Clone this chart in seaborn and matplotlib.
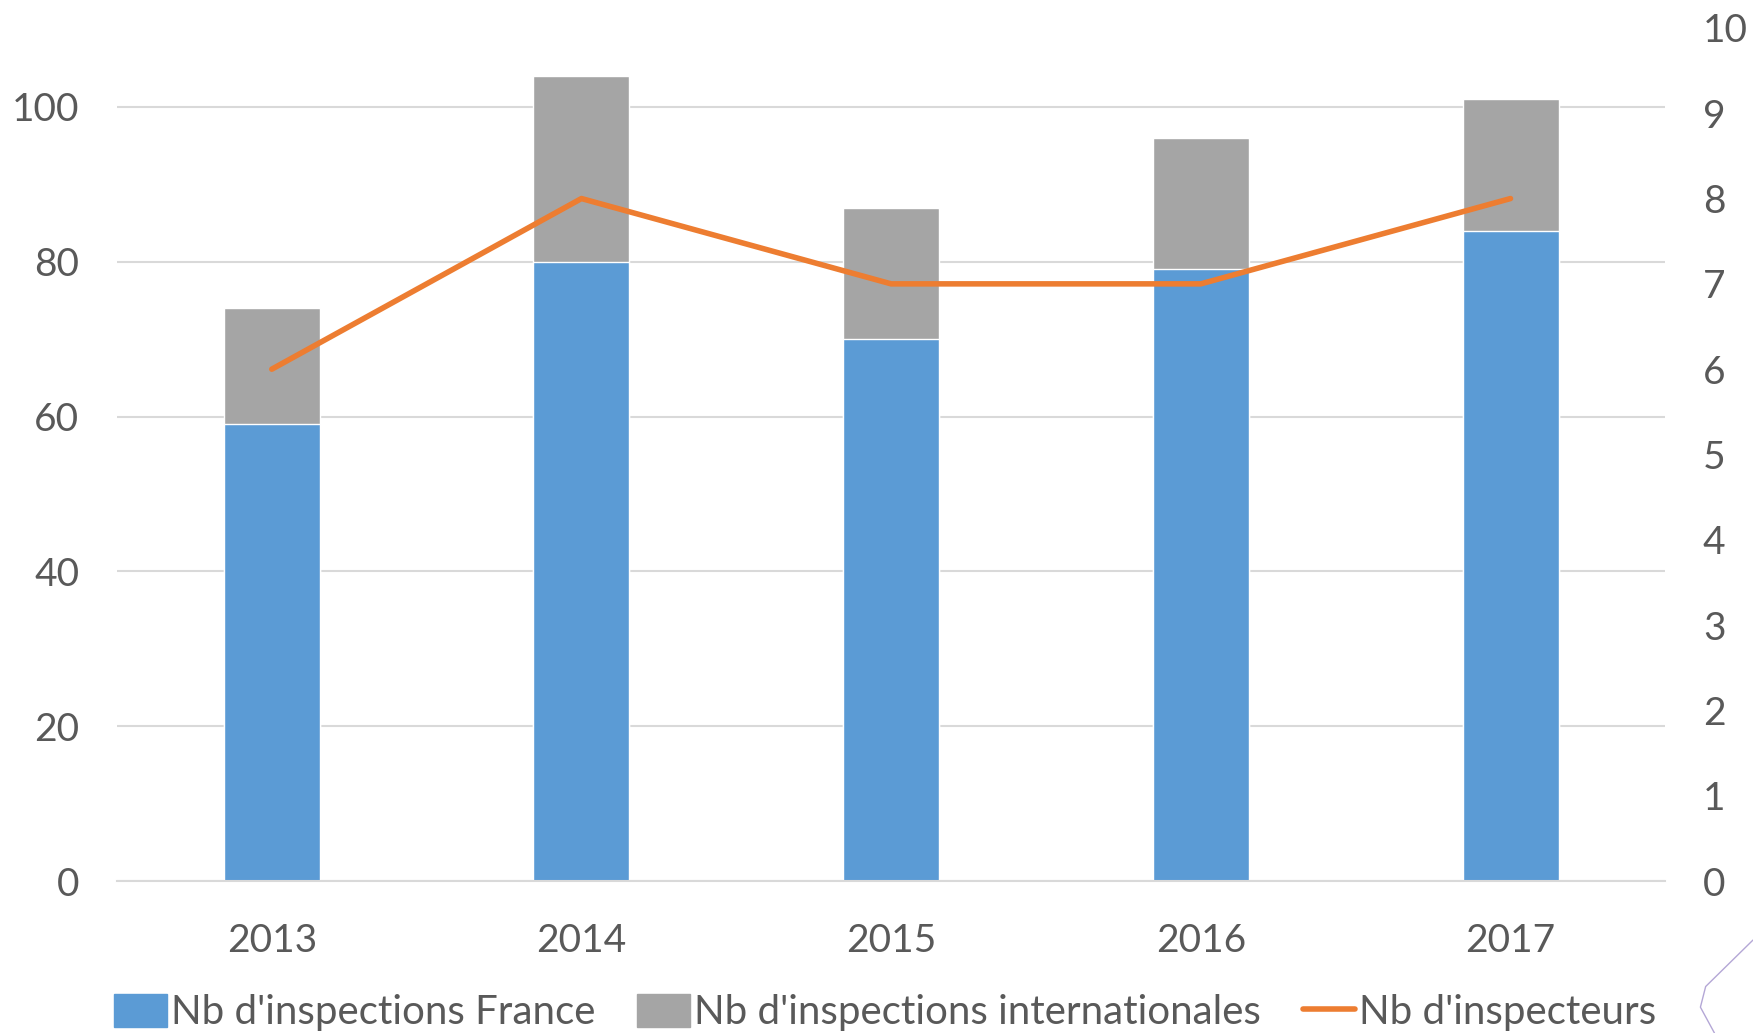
import numpy as np
import pandas as pd
import seaborn as sns
import matplotlib.pyplot as plt
from matplotlib.patches import Patch
from matplotlib.lines import Line2D

# Data
years = ["2013", "2014", "2015", "2016", "2017"]
insp_france = [59, 80, 70, 79, 84]
insp_inter = [15, 24, 17, 17, 17]
nb_inspecteurs = [6, 8, 7, 7, 8]

BLUE = "#5B9BD5"
GREY = "#A5A5A5"
ORANGE = "#ED7D31"
TXT = "#595959"

sns.set_style("white")
plt.rcParams["font.family"] = ["Lato", "DejaVu Sans"]

df = pd.DataFrame({"annee": years, "france": insp_france, "inter": insp_inter,
                   "inspecteurs": nb_inspecteurs})
df["total"] = df["france"] + df["inter"]
df["pos"] = np.arange(len(df))

fig = plt.figure(figsize=(17.53, 10.33), dpi=100)
ax = fig.add_axes([0.0667, 0.147, 0.8833, 0.826])

# stacked bars: total (grey) below, france (blue) in front
sns.barplot(data=df, x="annee", y="total", color=GREY, width=0.31, saturation=1, ax=ax)
sns.barplot(data=df, x="annee", y="france", color=BLUE, width=0.31, saturation=1, ax=ax)

ax.set_xlim(-0.5, 4.5)
ax.set_ylim(0, 110.2)
ax.set_yticks(range(0, 101, 20))
ax.yaxis.grid(True, color="#D9D9D9", linewidth=1.5)
ax.set_axisbelow(True)
ax.set_xlabel("")
ax.set_ylabel("")
for s in ["top", "right", "left"]:
    ax.spines[s].set_visible(False)
ax.spines["bottom"].set_color("#D9D9D9")
ax.spines["bottom"].set_linewidth(1.5)
ax.tick_params(axis="both", length=0, labelsize=28, colors=TXT)
ax.tick_params(axis="x", pad=30)
ax.tick_params(axis="y", pad=27)

ax2 = ax.twinx()
sns.lineplot(data=df, x="pos", y="inspecteurs", color=ORANGE, linewidth=4, ax=ax2)
ax2.set_ylim(0, 10)
ax2.set_yticks(range(0, 11))
ax2.set_xlim(-0.5, 4.5)
ax2.set_ylabel("")
for s in ["top", "right", "left", "bottom"]:
    ax2.spines[s].set_visible(False)
ax2.tick_params(axis="y", length=0, labelsize=28, colors=TXT, pad=27)

handles = [Patch(facecolor=BLUE, edgecolor=BLUE),
           Patch(facecolor=GREY, edgecolor=GREY),
           Line2D([0], [0], color=ORANGE, linewidth=4)]
labels = ["Nb d'inspections France", "Nb d'inspections internationales", "Nb d'inspecteurs"]
fig.legend(handles, labels, loc="center", bbox_to_anchor=(0.505, 0.02), ncol=3,
           frameon=False, fontsize=29, labelcolor=TXT, handlelength=1.3,
           handleheight=0.9, handletextpad=0.1, columnspacing=1.05)

# small decorative curve in the bottom right corner
fig.add_artist(Line2D([1.0, 0.973, 0.970, 0.978], [0.09, 0.045, 0.025, 0.0],
                      transform=fig.transFigure, color="#B4A7D6", linewidth=1))

fig.savefig("out.png", dpi=100)
